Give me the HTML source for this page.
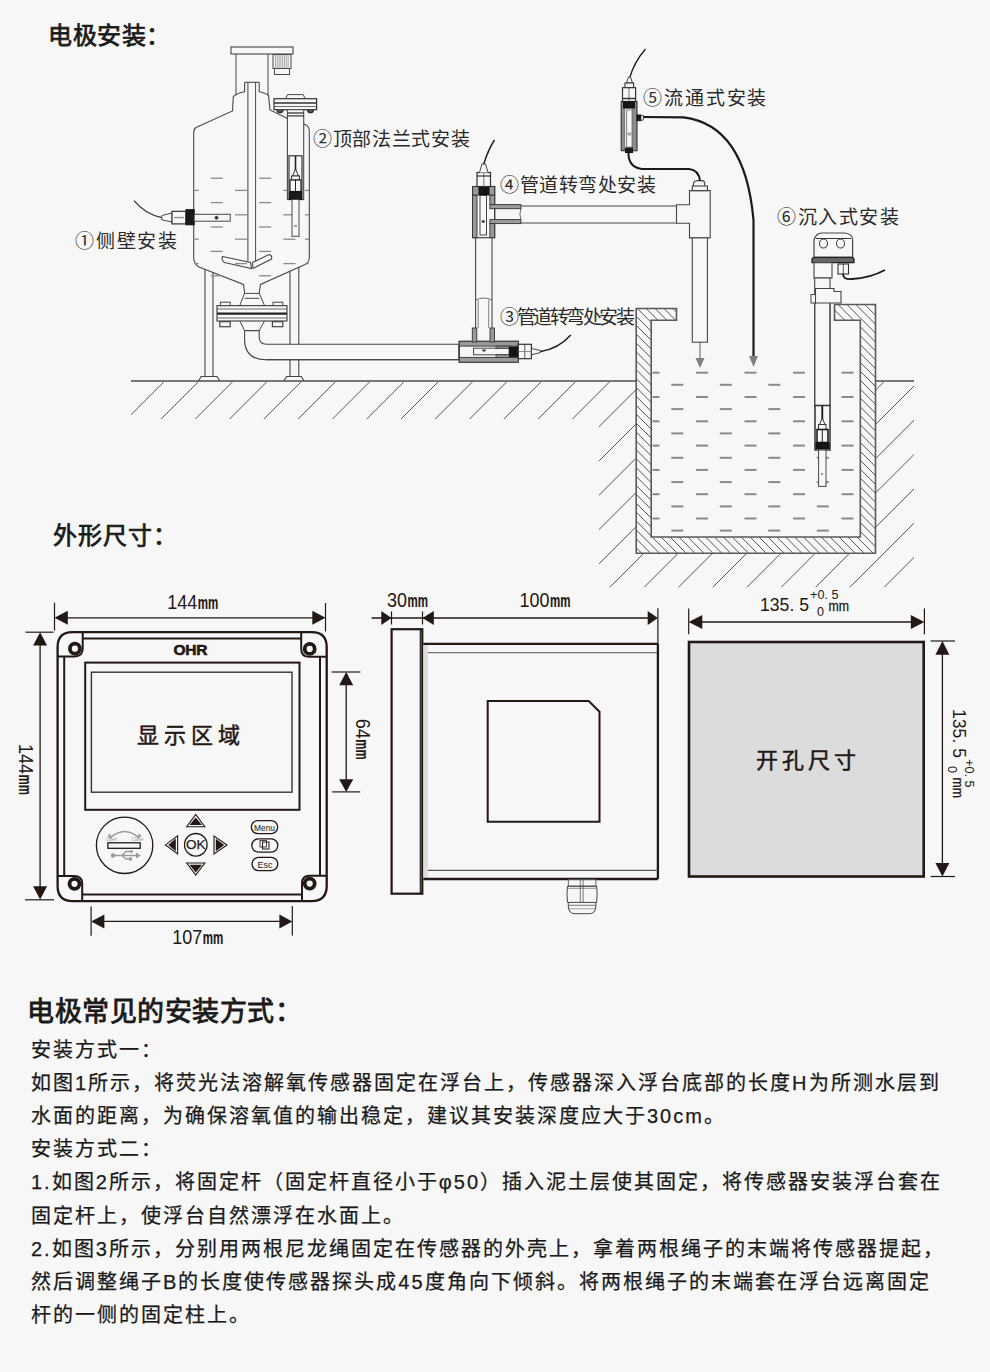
<!DOCTYPE html>
<html lang="zh-CN">
<head>
<meta charset="utf-8">
<style>
html,body{margin:0;padding:0;}
body{width:990px;height:1372px;background:#f7f7f7;position:relative;overflow:hidden;font-family:"Liberation Sans",sans-serif;color:#1a1a1a;}
.t{position:absolute;white-space:nowrap;line-height:1;}
.h1{font-size:24px;font-weight:400;-webkit-text-stroke:0.75px #1a1a1a;}
.h2{font-size:27px;font-weight:400;-webkit-text-stroke:0.85px #1a1a1a;}
.lb{font-size:19px;color:#2a2a2a;}
.dm{font-size:16.5px;color:#231815;}
.mm{font-size:13px;display:inline-block;transform:scaleX(0.85);transform-origin:left;}
.rot{transform:rotate(90deg);transform-origin:center;}
.sup{font-size:12px;position:relative;top:-9px;left:2px;}
.sub{font-size:12px;position:relative;top:4px;left:-22px;}
.mm2{font-size:13px;position:relative;left:-14px;}
.sr{font-family:"Liberation Serif",serif;font-size:22px;font-weight:400;-webkit-text-stroke:0.5px #231815;color:#231815;letter-spacing:4px;}
.p{font-size:20px;left:31px;letter-spacing:2px;-webkit-text-stroke:0.25px #1a1a1a;}
svg{position:absolute;left:0;top:0;}
</style>
</head>
<body>
<svg width="990" height="1372" viewBox="0 0 990 1372"><defs><clipPath id="gclip"><path d="M131 381 L636.4 381 L636.4 553.2 L875.5 553.2 L875.5 381 L914 381 L914 587.3 L599 587.3 L599 419 L131 419 Z"/></clipPath><clipPath id="wclip"><path d="M636.2 308.5 L676.5 308.5 L676.5 320.3 L651.2 320.3 L651.2 537 L860.3 537 L860.3 320.3 L834.5 320.3 L834.5 304.5 L875.5 304.5 L875.5 553.2 L636.2 553.2 Z"/></clipPath></defs><g clip-path="url(#gclip)"><line x1="107.2" y1="370" x2="-122.8" y2="600" stroke="#585858" stroke-width="1"/><line x1="141.5" y1="370" x2="-88.5" y2="600" stroke="#585858" stroke-width="1"/><line x1="175.8" y1="370" x2="-54.2" y2="600" stroke="#585858" stroke-width="1"/><line x1="210.1" y1="370" x2="-19.9" y2="600" stroke="#585858" stroke-width="1"/><line x1="244.4" y1="370" x2="14.4" y2="600" stroke="#585858" stroke-width="1"/><line x1="278.6" y1="370" x2="48.6" y2="600" stroke="#585858" stroke-width="1"/><line x1="312.9" y1="370" x2="82.9" y2="600" stroke="#585858" stroke-width="1"/><line x1="347.2" y1="370" x2="117.2" y2="600" stroke="#585858" stroke-width="1"/><line x1="381.5" y1="370" x2="151.5" y2="600" stroke="#585858" stroke-width="1"/><line x1="415.8" y1="370" x2="185.8" y2="600" stroke="#585858" stroke-width="1"/><line x1="450" y1="370" x2="220" y2="600" stroke="#585858" stroke-width="1"/><line x1="484.3" y1="370" x2="254.3" y2="600" stroke="#585858" stroke-width="1"/><line x1="518.6" y1="370" x2="288.6" y2="600" stroke="#585858" stroke-width="1"/><line x1="552.9" y1="370" x2="322.9" y2="600" stroke="#585858" stroke-width="1"/><line x1="587.2" y1="370" x2="357.2" y2="600" stroke="#585858" stroke-width="1"/><line x1="621.4" y1="370" x2="391.4" y2="600" stroke="#585858" stroke-width="1"/><line x1="655.7" y1="370" x2="425.7" y2="600" stroke="#585858" stroke-width="1"/><line x1="690" y1="370" x2="460" y2="600" stroke="#585858" stroke-width="1"/><line x1="724.3" y1="370" x2="494.3" y2="600" stroke="#585858" stroke-width="1"/><line x1="758.6" y1="370" x2="528.6" y2="600" stroke="#585858" stroke-width="1"/><line x1="792.8" y1="370" x2="562.8" y2="600" stroke="#585858" stroke-width="1"/><line x1="827.1" y1="370" x2="597.1" y2="600" stroke="#585858" stroke-width="1"/><line x1="861.4" y1="370" x2="631.4" y2="600" stroke="#585858" stroke-width="1"/><line x1="895.7" y1="370" x2="665.7" y2="600" stroke="#585858" stroke-width="1"/><line x1="930" y1="370" x2="700" y2="600" stroke="#585858" stroke-width="1"/><line x1="964.2" y1="370" x2="734.2" y2="600" stroke="#585858" stroke-width="1"/><line x1="998.5" y1="370" x2="768.5" y2="600" stroke="#585858" stroke-width="1"/><line x1="1032.8" y1="370" x2="802.8" y2="600" stroke="#585858" stroke-width="1"/><line x1="1067.1" y1="370" x2="837.1" y2="600" stroke="#585858" stroke-width="1"/><line x1="1101.4" y1="370" x2="871.4" y2="600" stroke="#585858" stroke-width="1"/><line x1="1135.6" y1="370" x2="905.6" y2="600" stroke="#585858" stroke-width="1"/><line x1="1169.9" y1="370" x2="939.9" y2="600" stroke="#585858" stroke-width="1"/></g><line x1="131" y1="381" x2="636.4" y2="381" stroke="#777" stroke-width="2"/><line x1="875.5" y1="381" x2="914" y2="381" stroke="#777" stroke-width="2"/><g clip-path="url(#wclip)"><line x1="600" y1="-22.5" x2="900" y2="277.5" stroke="#555" stroke-width="1"/><line x1="600" y1="-13.6" x2="900" y2="286.4" stroke="#555" stroke-width="1"/><line x1="600" y1="-4.7" x2="900" y2="295.3" stroke="#555" stroke-width="1"/><line x1="600" y1="4.2" x2="900" y2="304.2" stroke="#555" stroke-width="1"/><line x1="600" y1="13.1" x2="900" y2="313.1" stroke="#555" stroke-width="1"/><line x1="600" y1="22" x2="900" y2="322" stroke="#555" stroke-width="1"/><line x1="600" y1="30.9" x2="900" y2="330.9" stroke="#555" stroke-width="1"/><line x1="600" y1="39.8" x2="900" y2="339.8" stroke="#555" stroke-width="1"/><line x1="600" y1="48.7" x2="900" y2="348.7" stroke="#555" stroke-width="1"/><line x1="600" y1="57.6" x2="900" y2="357.6" stroke="#555" stroke-width="1"/><line x1="600" y1="66.5" x2="900" y2="366.5" stroke="#555" stroke-width="1"/><line x1="600" y1="75.4" x2="900" y2="375.4" stroke="#555" stroke-width="1"/><line x1="600" y1="84.3" x2="900" y2="384.3" stroke="#555" stroke-width="1"/><line x1="600" y1="93.2" x2="900" y2="393.2" stroke="#555" stroke-width="1"/><line x1="600" y1="102.1" x2="900" y2="402.1" stroke="#555" stroke-width="1"/><line x1="600" y1="111" x2="900" y2="411" stroke="#555" stroke-width="1"/><line x1="600" y1="119.9" x2="900" y2="419.9" stroke="#555" stroke-width="1"/><line x1="600" y1="128.8" x2="900" y2="428.8" stroke="#555" stroke-width="1"/><line x1="600" y1="137.7" x2="900" y2="437.7" stroke="#555" stroke-width="1"/><line x1="600" y1="146.6" x2="900" y2="446.6" stroke="#555" stroke-width="1"/><line x1="600" y1="155.5" x2="900" y2="455.5" stroke="#555" stroke-width="1"/><line x1="600" y1="164.4" x2="900" y2="464.4" stroke="#555" stroke-width="1"/><line x1="600" y1="173.3" x2="900" y2="473.3" stroke="#555" stroke-width="1"/><line x1="600" y1="182.2" x2="900" y2="482.2" stroke="#555" stroke-width="1"/><line x1="600" y1="191.1" x2="900" y2="491.1" stroke="#555" stroke-width="1"/><line x1="600" y1="200" x2="900" y2="500" stroke="#555" stroke-width="1"/><line x1="600" y1="208.9" x2="900" y2="508.9" stroke="#555" stroke-width="1"/><line x1="600" y1="217.8" x2="900" y2="517.8" stroke="#555" stroke-width="1"/><line x1="600" y1="226.7" x2="900" y2="526.7" stroke="#555" stroke-width="1"/><line x1="600" y1="235.6" x2="900" y2="535.6" stroke="#555" stroke-width="1"/><line x1="600" y1="244.5" x2="900" y2="544.5" stroke="#555" stroke-width="1"/><line x1="600" y1="253.4" x2="900" y2="553.4" stroke="#555" stroke-width="1"/><line x1="600" y1="262.3" x2="900" y2="562.3" stroke="#555" stroke-width="1"/><line x1="600" y1="271.2" x2="900" y2="571.2" stroke="#555" stroke-width="1"/><line x1="600" y1="280.1" x2="900" y2="580.1" stroke="#555" stroke-width="1"/><line x1="600" y1="289" x2="900" y2="589" stroke="#555" stroke-width="1"/><line x1="600" y1="297.9" x2="900" y2="597.9" stroke="#555" stroke-width="1"/><line x1="600" y1="306.8" x2="900" y2="606.8" stroke="#555" stroke-width="1"/><line x1="600" y1="315.7" x2="900" y2="615.7" stroke="#555" stroke-width="1"/><line x1="600" y1="324.6" x2="900" y2="624.6" stroke="#555" stroke-width="1"/><line x1="600" y1="333.5" x2="900" y2="633.5" stroke="#555" stroke-width="1"/><line x1="600" y1="342.4" x2="900" y2="642.4" stroke="#555" stroke-width="1"/><line x1="600" y1="351.3" x2="900" y2="651.3" stroke="#555" stroke-width="1"/><line x1="600" y1="360.2" x2="900" y2="660.2" stroke="#555" stroke-width="1"/><line x1="600" y1="369.1" x2="900" y2="669.1" stroke="#555" stroke-width="1"/><line x1="600" y1="378" x2="900" y2="678" stroke="#555" stroke-width="1"/><line x1="600" y1="386.9" x2="900" y2="686.9" stroke="#555" stroke-width="1"/><line x1="600" y1="395.8" x2="900" y2="695.8" stroke="#555" stroke-width="1"/><line x1="600" y1="404.7" x2="900" y2="704.7" stroke="#555" stroke-width="1"/><line x1="600" y1="413.6" x2="900" y2="713.6" stroke="#555" stroke-width="1"/><line x1="600" y1="422.5" x2="900" y2="722.5" stroke="#555" stroke-width="1"/><line x1="600" y1="431.4" x2="900" y2="731.4" stroke="#555" stroke-width="1"/><line x1="600" y1="440.3" x2="900" y2="740.3" stroke="#555" stroke-width="1"/><line x1="600" y1="449.2" x2="900" y2="749.2" stroke="#555" stroke-width="1"/><line x1="600" y1="458.1" x2="900" y2="758.1" stroke="#555" stroke-width="1"/><line x1="600" y1="467" x2="900" y2="767" stroke="#555" stroke-width="1"/><line x1="600" y1="475.9" x2="900" y2="775.9" stroke="#555" stroke-width="1"/><line x1="600" y1="484.8" x2="900" y2="784.8" stroke="#555" stroke-width="1"/><line x1="600" y1="493.7" x2="900" y2="793.7" stroke="#555" stroke-width="1"/><line x1="600" y1="502.6" x2="900" y2="802.6" stroke="#555" stroke-width="1"/><line x1="600" y1="511.5" x2="900" y2="811.5" stroke="#555" stroke-width="1"/><line x1="600" y1="520.4" x2="900" y2="820.4" stroke="#555" stroke-width="1"/><line x1="600" y1="529.3" x2="900" y2="829.3" stroke="#555" stroke-width="1"/><line x1="600" y1="538.2" x2="900" y2="838.2" stroke="#555" stroke-width="1"/><line x1="600" y1="547.1" x2="900" y2="847.1" stroke="#555" stroke-width="1"/><line x1="600" y1="556" x2="900" y2="856" stroke="#555" stroke-width="1"/><line x1="600" y1="564.9" x2="900" y2="864.9" stroke="#555" stroke-width="1"/><line x1="600" y1="573.8" x2="900" y2="873.8" stroke="#555" stroke-width="1"/><line x1="600" y1="582.7" x2="900" y2="882.7" stroke="#555" stroke-width="1"/><line x1="600" y1="591.6" x2="900" y2="891.6" stroke="#555" stroke-width="1"/><line x1="600" y1="600.5" x2="900" y2="900.5" stroke="#555" stroke-width="1"/><line x1="600" y1="609.4" x2="900" y2="909.4" stroke="#555" stroke-width="1"/><line x1="600" y1="618.3" x2="900" y2="918.3" stroke="#555" stroke-width="1"/><line x1="600" y1="627.2" x2="900" y2="927.2" stroke="#555" stroke-width="1"/><line x1="600" y1="636.1" x2="900" y2="936.1" stroke="#555" stroke-width="1"/><line x1="600" y1="645" x2="900" y2="945" stroke="#555" stroke-width="1"/><line x1="600" y1="653.9" x2="900" y2="953.9" stroke="#555" stroke-width="1"/><line x1="600" y1="662.8" x2="900" y2="962.8" stroke="#555" stroke-width="1"/><line x1="600" y1="671.7" x2="900" y2="971.7" stroke="#555" stroke-width="1"/><line x1="600" y1="680.6" x2="900" y2="980.6" stroke="#555" stroke-width="1"/><line x1="600" y1="689.5" x2="900" y2="989.5" stroke="#555" stroke-width="1"/><line x1="600" y1="698.4" x2="900" y2="998.4" stroke="#555" stroke-width="1"/><line x1="600" y1="707.3" x2="900" y2="1007.3" stroke="#555" stroke-width="1"/><line x1="600" y1="716.2" x2="900" y2="1016.2" stroke="#555" stroke-width="1"/><line x1="600" y1="725.1" x2="900" y2="1025.1" stroke="#555" stroke-width="1"/><line x1="600" y1="734" x2="900" y2="1034" stroke="#555" stroke-width="1"/><line x1="600" y1="742.9" x2="900" y2="1042.9" stroke="#555" stroke-width="1"/><line x1="600" y1="751.8" x2="900" y2="1051.8" stroke="#555" stroke-width="1"/><line x1="600" y1="760.7" x2="900" y2="1060.7" stroke="#555" stroke-width="1"/><line x1="600" y1="769.6" x2="900" y2="1069.6" stroke="#555" stroke-width="1"/><line x1="600" y1="778.5" x2="900" y2="1078.5" stroke="#555" stroke-width="1"/><line x1="600" y1="787.4" x2="900" y2="1087.4" stroke="#555" stroke-width="1"/><line x1="600" y1="796.3" x2="900" y2="1096.3" stroke="#555" stroke-width="1"/><line x1="600" y1="805.2" x2="900" y2="1105.2" stroke="#555" stroke-width="1"/><line x1="600" y1="814.1" x2="900" y2="1114.1" stroke="#555" stroke-width="1"/><line x1="600" y1="823" x2="900" y2="1123" stroke="#555" stroke-width="1"/><line x1="600" y1="831.9" x2="900" y2="1131.9" stroke="#555" stroke-width="1"/><line x1="600" y1="840.8" x2="900" y2="1140.8" stroke="#555" stroke-width="1"/><line x1="600" y1="849.7" x2="900" y2="1149.7" stroke="#555" stroke-width="1"/><line x1="600" y1="858.6" x2="900" y2="1158.6" stroke="#555" stroke-width="1"/><line x1="600" y1="867.5" x2="900" y2="1167.5" stroke="#555" stroke-width="1"/><line x1="600" y1="876.4" x2="900" y2="1176.4" stroke="#555" stroke-width="1"/><line x1="600" y1="885.3" x2="900" y2="1185.3" stroke="#555" stroke-width="1"/><line x1="600" y1="894.2" x2="900" y2="1194.2" stroke="#555" stroke-width="1"/><line x1="600" y1="903.1" x2="900" y2="1203.1" stroke="#555" stroke-width="1"/></g><path d="M636.2 308.5 L676.5 308.5 L676.5 320.3 L651.2 320.3 L651.2 537 L860.3 537 L860.3 320.3 L834.5 320.3 L834.5 304.5 L875.5 304.5 L875.5 553.2 L636.2 553.2 Z" stroke="#5a5a5a" stroke-width="1.6" fill="none"/><line x1="652.5" y1="372.7" x2="659.5" y2="372.7" stroke="#8a8a8a" stroke-width="2"/><line x1="696" y1="372.7" x2="708" y2="372.7" stroke="#8a8a8a" stroke-width="2"/><line x1="744.5" y1="372.7" x2="756.5" y2="372.7" stroke="#8a8a8a" stroke-width="2"/><line x1="793" y1="372.7" x2="805" y2="372.7" stroke="#8a8a8a" stroke-width="2"/><line x1="841.5" y1="372.7" x2="853.5" y2="372.7" stroke="#8a8a8a" stroke-width="2"/><line x1="671.3" y1="384.8" x2="683.3" y2="384.8" stroke="#8a8a8a" stroke-width="2"/><line x1="719.8" y1="384.8" x2="731.8" y2="384.8" stroke="#8a8a8a" stroke-width="2"/><line x1="768.3" y1="384.8" x2="780.3" y2="384.8" stroke="#8a8a8a" stroke-width="2"/><line x1="816.8" y1="384.8" x2="828.8" y2="384.8" stroke="#8a8a8a" stroke-width="2"/><line x1="652.5" y1="397" x2="659.5" y2="397" stroke="#8a8a8a" stroke-width="2"/><line x1="696" y1="397" x2="708" y2="397" stroke="#8a8a8a" stroke-width="2"/><line x1="744.5" y1="397" x2="756.5" y2="397" stroke="#8a8a8a" stroke-width="2"/><line x1="793" y1="397" x2="805" y2="397" stroke="#8a8a8a" stroke-width="2"/><line x1="841.5" y1="397" x2="853.5" y2="397" stroke="#8a8a8a" stroke-width="2"/><line x1="671.3" y1="409.1" x2="683.3" y2="409.1" stroke="#8a8a8a" stroke-width="2"/><line x1="719.8" y1="409.1" x2="731.8" y2="409.1" stroke="#8a8a8a" stroke-width="2"/><line x1="768.3" y1="409.1" x2="780.3" y2="409.1" stroke="#8a8a8a" stroke-width="2"/><line x1="816.8" y1="409.1" x2="828.8" y2="409.1" stroke="#8a8a8a" stroke-width="2"/><line x1="652.5" y1="421.3" x2="659.5" y2="421.3" stroke="#8a8a8a" stroke-width="2"/><line x1="696" y1="421.3" x2="708" y2="421.3" stroke="#8a8a8a" stroke-width="2"/><line x1="744.5" y1="421.3" x2="756.5" y2="421.3" stroke="#8a8a8a" stroke-width="2"/><line x1="793" y1="421.3" x2="805" y2="421.3" stroke="#8a8a8a" stroke-width="2"/><line x1="841.5" y1="421.3" x2="853.5" y2="421.3" stroke="#8a8a8a" stroke-width="2"/><line x1="671.3" y1="433.4" x2="683.3" y2="433.4" stroke="#8a8a8a" stroke-width="2"/><line x1="719.8" y1="433.4" x2="731.8" y2="433.4" stroke="#8a8a8a" stroke-width="2"/><line x1="768.3" y1="433.4" x2="780.3" y2="433.4" stroke="#8a8a8a" stroke-width="2"/><line x1="816.8" y1="433.4" x2="828.8" y2="433.4" stroke="#8a8a8a" stroke-width="2"/><line x1="652.5" y1="445.6" x2="659.5" y2="445.6" stroke="#8a8a8a" stroke-width="2"/><line x1="696" y1="445.6" x2="708" y2="445.6" stroke="#8a8a8a" stroke-width="2"/><line x1="744.5" y1="445.6" x2="756.5" y2="445.6" stroke="#8a8a8a" stroke-width="2"/><line x1="793" y1="445.6" x2="805" y2="445.6" stroke="#8a8a8a" stroke-width="2"/><line x1="841.5" y1="445.6" x2="853.5" y2="445.6" stroke="#8a8a8a" stroke-width="2"/><line x1="671.3" y1="457.8" x2="683.3" y2="457.8" stroke="#8a8a8a" stroke-width="2"/><line x1="719.8" y1="457.8" x2="731.8" y2="457.8" stroke="#8a8a8a" stroke-width="2"/><line x1="768.3" y1="457.8" x2="780.3" y2="457.8" stroke="#8a8a8a" stroke-width="2"/><line x1="816.8" y1="457.8" x2="828.8" y2="457.8" stroke="#8a8a8a" stroke-width="2"/><line x1="652.5" y1="469.9" x2="659.5" y2="469.9" stroke="#8a8a8a" stroke-width="2"/><line x1="696" y1="469.9" x2="708" y2="469.9" stroke="#8a8a8a" stroke-width="2"/><line x1="744.5" y1="469.9" x2="756.5" y2="469.9" stroke="#8a8a8a" stroke-width="2"/><line x1="793" y1="469.9" x2="805" y2="469.9" stroke="#8a8a8a" stroke-width="2"/><line x1="841.5" y1="469.9" x2="853.5" y2="469.9" stroke="#8a8a8a" stroke-width="2"/><line x1="671.3" y1="482.1" x2="683.3" y2="482.1" stroke="#8a8a8a" stroke-width="2"/><line x1="719.8" y1="482.1" x2="731.8" y2="482.1" stroke="#8a8a8a" stroke-width="2"/><line x1="768.3" y1="482.1" x2="780.3" y2="482.1" stroke="#8a8a8a" stroke-width="2"/><line x1="816.8" y1="482.1" x2="828.8" y2="482.1" stroke="#8a8a8a" stroke-width="2"/><line x1="652.5" y1="494.2" x2="659.5" y2="494.2" stroke="#8a8a8a" stroke-width="2"/><line x1="696" y1="494.2" x2="708" y2="494.2" stroke="#8a8a8a" stroke-width="2"/><line x1="744.5" y1="494.2" x2="756.5" y2="494.2" stroke="#8a8a8a" stroke-width="2"/><line x1="793" y1="494.2" x2="805" y2="494.2" stroke="#8a8a8a" stroke-width="2"/><line x1="841.5" y1="494.2" x2="853.5" y2="494.2" stroke="#8a8a8a" stroke-width="2"/><line x1="671.3" y1="506.4" x2="683.3" y2="506.4" stroke="#8a8a8a" stroke-width="2"/><line x1="719.8" y1="506.4" x2="731.8" y2="506.4" stroke="#8a8a8a" stroke-width="2"/><line x1="768.3" y1="506.4" x2="780.3" y2="506.4" stroke="#8a8a8a" stroke-width="2"/><line x1="816.8" y1="506.4" x2="828.8" y2="506.4" stroke="#8a8a8a" stroke-width="2"/><line x1="652.5" y1="518.5" x2="659.5" y2="518.5" stroke="#8a8a8a" stroke-width="2"/><line x1="696" y1="518.5" x2="708" y2="518.5" stroke="#8a8a8a" stroke-width="2"/><line x1="744.5" y1="518.5" x2="756.5" y2="518.5" stroke="#8a8a8a" stroke-width="2"/><line x1="793" y1="518.5" x2="805" y2="518.5" stroke="#8a8a8a" stroke-width="2"/><line x1="841.5" y1="518.5" x2="853.5" y2="518.5" stroke="#8a8a8a" stroke-width="2"/><line x1="671.3" y1="530.6" x2="683.3" y2="530.6" stroke="#8a8a8a" stroke-width="2"/><line x1="719.8" y1="530.6" x2="731.8" y2="530.6" stroke="#8a8a8a" stroke-width="2"/><line x1="768.3" y1="530.6" x2="780.3" y2="530.6" stroke="#8a8a8a" stroke-width="2"/><line x1="816.8" y1="530.6" x2="828.8" y2="530.6" stroke="#8a8a8a" stroke-width="2"/><line x1="700" y1="342" x2="700" y2="360" stroke="#777" stroke-width="1.2"/><path d="M695.5 358 L704.5 358 L700 368 Z" stroke="none" stroke-width="0" fill="#808080"/><line x1="753.5" y1="220" x2="753.5" y2="358" stroke="#1a1a1a" stroke-width="2.2"/><path d="M749 356 L758 356 L753.5 367 Z" stroke="none" stroke-width="0" fill="#808080"/><line x1="205" y1="269.4" x2="205" y2="377" stroke="#484848" stroke-width="1.1"/><line x1="213" y1="272.5" x2="213" y2="377" stroke="#484848" stroke-width="1.1"/><path d="M198.6 381 L201.1 376.5 L217.1 376.5 L219.6 381" stroke="#484848" stroke-width="1.1" fill="none"/><line x1="290" y1="271.2" x2="290" y2="377" stroke="#484848" stroke-width="1.1"/><line x1="298.8" y1="267.3" x2="298.8" y2="377" stroke="#484848" stroke-width="1.1"/><path d="M284 381 L286.5 376.5 L301.5 376.5 L304 381" stroke="#484848" stroke-width="1.1" fill="none"/><rect x="231" y="47" width="62" height="7" stroke="#484848" stroke-width="1.1" fill="none"/><line x1="236" y1="54" x2="236" y2="95" stroke="#484848" stroke-width="1"/><line x1="268" y1="54" x2="268" y2="95" stroke="#484848" stroke-width="1"/><rect x="273" y="54.5" width="18" height="14" stroke="#484848" stroke-width="1" fill="none"/><rect x="274.5" y="68.5" width="15" height="6" stroke="#484848" stroke-width="1" fill="none"/><line x1="275.5" y1="55" x2="275.5" y2="68" stroke="#888" stroke-width="0.7"/><line x1="277.3" y1="55" x2="277.3" y2="68" stroke="#888" stroke-width="0.7"/><line x1="279.1" y1="55" x2="279.1" y2="68" stroke="#888" stroke-width="0.7"/><line x1="280.9" y1="55" x2="280.9" y2="68" stroke="#888" stroke-width="0.7"/><line x1="282.7" y1="55" x2="282.7" y2="68" stroke="#888" stroke-width="0.7"/><line x1="284.5" y1="55" x2="284.5" y2="68" stroke="#888" stroke-width="0.7"/><line x1="286.3" y1="55" x2="286.3" y2="68" stroke="#888" stroke-width="0.7"/><line x1="288.1" y1="55" x2="288.1" y2="68" stroke="#888" stroke-width="0.7"/><path d="M244.6 82.3 L244.6 91.7 Q237 93 233.3 96.6 L232.5 111 L196 127.5 Q193.7 129 193.7 133 L193.7 258 Q194 264 199 267 L243.5 284.5 L244.6 293" stroke="#484848" stroke-width="1.1" fill="none"/><path d="M259.2 82.3 L259.2 91.7 Q266 93 268.5 95.5 L270 110 L287.4 118.5" stroke="#484848" stroke-width="1.1" fill="none"/><path d="M303.7 124 L306 125 Q309.3 127 309.3 131 L309.3 258 Q309 262 305 264.5 L260.5 284.5 L259.2 293" stroke="#484848" stroke-width="1.1" fill="none"/><line x1="244.6" y1="82.3" x2="259.2" y2="82.3" stroke="#484848" stroke-width="1.1"/><line x1="247.9" y1="82.3" x2="247.9" y2="262" stroke="#484848" stroke-width="1"/><line x1="255.6" y1="82.3" x2="255.6" y2="262" stroke="#484848" stroke-width="1"/><path d="M222.5 256.5 L250.5 262.5 L251.5 268.5 L224.5 262.5 Q221 260 222.5 256.5 Z" stroke="#484848" stroke-width="1.1" fill="#f7f7f7"/><path d="M252.5 262.5 L269 254.5 Q272.5 255.5 271.5 259 L253 268.5 Z" stroke="#484848" stroke-width="1.1" fill="#f7f7f7"/><path d="M244.6 293 L239.8 305.6 M259.2 293 L264.5 305.6" stroke="#484848" stroke-width="1" fill="none"/><line x1="244.6" y1="293.4" x2="259.2" y2="293.4" stroke="#484848" stroke-width="1"/><line x1="244.6" y1="298.3" x2="259.2" y2="298.3" stroke="#484848" stroke-width="1"/><rect x="217" y="305.6" width="70" height="15.4" stroke="#484848" stroke-width="1.2" fill="#f7f7f7"/><line x1="217" y1="313.6" x2="287" y2="313.6" stroke="#222" stroke-width="2.2"/><line x1="217" y1="309" x2="287" y2="309" stroke="#484848" stroke-width="0.8"/><line x1="217" y1="318" x2="287" y2="318" stroke="#484848" stroke-width="0.8"/><rect x="220.4" y="302.2" width="9.8" height="3.4" stroke="#484848" stroke-width="1" fill="#f7f7f7"/><rect x="219.8" y="321.7" width="10.4" height="5" stroke="#444" stroke-width="1.2" fill="#f7f7f7"/><rect x="273" y="302.2" width="9.8" height="3.4" stroke="#484848" stroke-width="1" fill="#f7f7f7"/><rect x="272.4" y="321.7" width="10.4" height="5" stroke="#444" stroke-width="1.2" fill="#f7f7f7"/><path d="M239.8 321 L244.6 330.6 M264.5 321 L259.2 330.6" stroke="#484848" stroke-width="1" fill="none"/><line x1="244.6" y1="330.6" x2="259.2" y2="330.6" stroke="#484848" stroke-width="1"/><line x1="244.6" y1="334" x2="259.2" y2="334" stroke="#484848" stroke-width="1"/><path d="M244.6 330.6 L244.6 340 Q245 359.7 266 359.7 L459 359.7 L459 344.3 L266.5 344.3 Q259.2 344 259.2 337 L259.2 330.6 Z" stroke="#484848" stroke-width="1.1" fill="#f7f7f7"/><line x1="266" y1="359.7" x2="459" y2="359.7" stroke="#484848" stroke-width="1.3"/><line x1="210.7" y1="178.2" x2="222.7" y2="178.2" stroke="#8a8a8a" stroke-width="1.3"/><line x1="259.1" y1="178.2" x2="271.1" y2="178.2" stroke="#8a8a8a" stroke-width="1.3"/><line x1="194.5" y1="190.4" x2="198.6" y2="190.4" stroke="#8a8a8a" stroke-width="1.3"/><line x1="235" y1="190.4" x2="247" y2="190.4" stroke="#8a8a8a" stroke-width="1.3"/><line x1="283.4" y1="190.4" x2="295.5" y2="190.4" stroke="#8a8a8a" stroke-width="1.3"/><line x1="305" y1="190.4" x2="309" y2="190.4" stroke="#8a8a8a" stroke-width="1.3"/><line x1="210.7" y1="202.6" x2="222.7" y2="202.6" stroke="#8a8a8a" stroke-width="1.3"/><line x1="259.1" y1="202.6" x2="271.1" y2="202.6" stroke="#8a8a8a" stroke-width="1.3"/><line x1="194.5" y1="214.8" x2="198.6" y2="214.8" stroke="#8a8a8a" stroke-width="1.3"/><line x1="235" y1="214.8" x2="247" y2="214.8" stroke="#8a8a8a" stroke-width="1.3"/><line x1="283.4" y1="214.8" x2="295.5" y2="214.8" stroke="#8a8a8a" stroke-width="1.3"/><line x1="305" y1="214.8" x2="309" y2="214.8" stroke="#8a8a8a" stroke-width="1.3"/><line x1="210.7" y1="227" x2="222.7" y2="227" stroke="#8a8a8a" stroke-width="1.3"/><line x1="259.1" y1="227" x2="271.1" y2="227" stroke="#8a8a8a" stroke-width="1.3"/><line x1="194.5" y1="239.2" x2="198.6" y2="239.2" stroke="#8a8a8a" stroke-width="1.3"/><line x1="235" y1="239.2" x2="247" y2="239.2" stroke="#8a8a8a" stroke-width="1.3"/><line x1="283.4" y1="239.2" x2="295.5" y2="239.2" stroke="#8a8a8a" stroke-width="1.3"/><line x1="305" y1="239.2" x2="309" y2="239.2" stroke="#8a8a8a" stroke-width="1.3"/><line x1="210.7" y1="251.4" x2="222.7" y2="251.4" stroke="#8a8a8a" stroke-width="1.3"/><line x1="259.1" y1="251.4" x2="271.1" y2="251.4" stroke="#8a8a8a" stroke-width="1.3"/><line x1="194.5" y1="263.6" x2="198.6" y2="263.6" stroke="#8a8a8a" stroke-width="1.3"/><line x1="235" y1="263.6" x2="247" y2="263.6" stroke="#8a8a8a" stroke-width="1.3"/><line x1="283.4" y1="263.6" x2="295.5" y2="263.6" stroke="#8a8a8a" stroke-width="1.3"/><line x1="305" y1="263.6" x2="309" y2="263.6" stroke="#8a8a8a" stroke-width="1.3"/><line x1="210.7" y1="275.8" x2="222.7" y2="275.8" stroke="#8a8a8a" stroke-width="1.3"/><line x1="259.1" y1="275.8" x2="271.1" y2="275.8" stroke="#8a8a8a" stroke-width="1.3"/><path d="M134 200.6 Q145 214 161.8 217.6" stroke="#333" stroke-width="1.2" fill="none"/><path d="M161.8 215.5 L172 213 L172 222 L161.8 219.8 Z" stroke="#484848" stroke-width="1" fill="#f7f7f7"/><rect x="172" y="211.3" width="14" height="12.6" stroke="#333" stroke-width="1.2" fill="#f7f7f7"/><line x1="174" y1="217.6" x2="184" y2="217.6" stroke="#999" stroke-width="1.5"/><rect x="186" y="209.7" width="8.2" height="15.1" stroke="#111" stroke-width="1" fill="#1a1a1a"/><rect x="194.2" y="214.3" width="36" height="6.9" stroke="#484848" stroke-width="1" fill="#f7f7f7"/><path d="M216.5 217.7 m-1.5 0 a1.5 1.5 0 1 0 3 0 a1.5 1.5 0 1 0 -3 0" stroke="#333" stroke-width="0.8" fill="#333"/><path d="M285.7 98.7 L287.5 94.6 L303.2 94.6 L305 98.7" stroke="#484848" stroke-width="1" fill="#f7f7f7"/><rect x="274" y="98.7" width="42.6" height="11" stroke="#333" stroke-width="1.2" fill="#f7f7f7"/><line x1="274" y1="103" x2="316.6" y2="103" stroke="#333" stroke-width="1.6"/><line x1="274" y1="106.5" x2="316.6" y2="106.5" stroke="#484848" stroke-width="0.8"/><path d="M277 109.7 a3 3 0 0 0 6 0 M307.5 109.7 a3 3 0 0 0 6 0" stroke="#333" stroke-width="1.3" fill="#555"/><rect x="287.4" y="109.7" width="16.3" height="6.3" stroke="#484848" stroke-width="1" fill="#f7f7f7"/><line x1="287.4" y1="113" x2="303.7" y2="113" stroke="#333" stroke-width="1.3"/><rect x="287.4" y="116" width="16.3" height="83.5" stroke="#484848" stroke-width="1.1" fill="#f7f7f7"/><rect x="289" y="155.8" width="13" height="43.7" stroke="#333" stroke-width="1.2" fill="#f7f7f7"/><line x1="295.5" y1="156" x2="295.5" y2="172" stroke="#222" stroke-width="1.6"/><path d="M292.5 176 L295.5 169 L298.5 176 Z" stroke="#333" stroke-width="1" fill="#f7f7f7"/><rect x="291.5" y="176" width="8" height="4" stroke="#333" stroke-width="1" fill="#f7f7f7"/><rect x="290" y="180" width="11" height="11.5" stroke="#222" stroke-width="1.2" fill="#f7f7f7"/><line x1="295.5" y1="180" x2="295.5" y2="191.5" stroke="#222" stroke-width="1"/><rect x="289.5" y="191.8" width="12" height="7.5" stroke="#111" stroke-width="1" fill="#1a1a1a"/><rect x="292" y="199.5" width="7" height="36.8" stroke="#484848" stroke-width="1" fill="#f7f7f7"/><line x1="294" y1="226" x2="297" y2="226" stroke="#555" stroke-width="1"/><rect x="459.2" y="341.3" width="59.1" height="20.9" stroke="#333" stroke-width="1.1" fill="#f7f7f7"/><rect x="459.2" y="341.3" width="59.1" height="4.8" stroke="#333" stroke-width="0.9" fill="#9a9a9a"/><rect x="459.2" y="357.4" width="59.1" height="4.8" stroke="#333" stroke-width="0.9" fill="#9a9a9a"/><rect x="472.3" y="328" width="4.5" height="14" stroke="#333" stroke-width="0.9" fill="#9a9a9a"/><rect x="490" y="328" width="4.5" height="14" stroke="#333" stroke-width="0.9" fill="#9a9a9a"/><line x1="459.2" y1="346.1" x2="459.2" y2="357.4" stroke="#333" stroke-width="1"/><rect x="473.6" y="348.2" width="35.4" height="6.6" stroke="#444" stroke-width="1" fill="#f7f7f7"/><path d="M484 351.5 l-1.8 -1.5 h3.6 z" stroke="#333" stroke-width="0.8" fill="#333"/><rect x="496" y="346.1" width="13.5" height="2.1" stroke="#333" stroke-width="0.8" fill="#9a9a9a"/><rect x="496" y="354.8" width="13.5" height="2.6" stroke="#333" stroke-width="0.8" fill="#9a9a9a"/><rect x="509.7" y="347" width="8.6" height="9.8" stroke="#111" stroke-width="1" fill="#151515"/><rect x="518.3" y="344.3" width="13.1" height="14.4" stroke="#333" stroke-width="1.2" fill="#f7f7f7"/><line x1="524.8" y1="344.3" x2="524.8" y2="358.7" stroke="#444" stroke-width="0.9"/><line x1="518.3" y1="351.5" x2="531.4" y2="351.5" stroke="#777" stroke-width="0.8"/><path d="M531.4 348.5 L540.6 350.5 L540.6 352.5 L531.4 354.8 Z" stroke="#444" stroke-width="1" fill="#f7f7f7"/><path d="M540.6 351.5 Q558 349 570.8 335" stroke="#1a1a1a" stroke-width="1.4" fill="none"/><line x1="475.6" y1="237.7" x2="475.6" y2="328" stroke="#484848" stroke-width="1.1"/><line x1="492" y1="237.7" x2="492" y2="328" stroke="#484848" stroke-width="1.1"/><line x1="478.2" y1="300" x2="478.2" y2="328" stroke="#666" stroke-width="0.8"/><line x1="488.7" y1="300" x2="488.7" y2="328" stroke="#666" stroke-width="0.8"/><path d="M475.6 300 q8 -4 16.4 0" stroke="#484848" stroke-width="0.8" fill="none"/><rect x="472.6" y="186.5" width="22.1" height="51.2" stroke="#333" stroke-width="1.1" fill="#f7f7f7"/><rect x="472.6" y="195" width="4.4" height="42.7" stroke="#333" stroke-width="0.9" fill="#9a9a9a"/><rect x="489.9" y="195" width="4.8" height="9.6" stroke="#333" stroke-width="0.9" fill="#9a9a9a"/><rect x="489.9" y="223.6" width="4.8" height="14.1" stroke="#333" stroke-width="0.9" fill="#9a9a9a"/><rect x="472.6" y="186.5" width="22.1" height="8.5" stroke="#333" stroke-width="1" fill="#9a9a9a"/><rect x="479" y="187" width="10" height="7.5" stroke="#111" stroke-width="1" fill="#151515"/><rect x="480" y="195.5" width="6.5" height="39.5" stroke="#444" stroke-width="1" fill="#f7f7f7"/><path d="M483.3 223 l-1.5 -1.5 l1.5 -1.5 l1.5 1.5 z" stroke="#333" stroke-width="0.7" fill="#333"/><rect x="477" y="172.5" width="13.5" height="14" stroke="#333" stroke-width="1.2" fill="#f7f7f7"/><line x1="483.8" y1="172.5" x2="483.8" y2="186.5" stroke="#555" stroke-width="0.8"/><line x1="477" y1="176" x2="490.5" y2="176" stroke="#333" stroke-width="1.2"/><path d="M479.5 172.5 L482 164 L485.5 164 L488 172.5" stroke="#444" stroke-width="1" fill="#f7f7f7"/><path d="M483.8 164 Q488 150 494.5 140" stroke="#1a1a1a" stroke-width="1.4" fill="none"/><rect x="489.9" y="204.6" width="31" height="4.1" stroke="#333" stroke-width="0.9" fill="#9a9a9a"/><rect x="489.9" y="219.6" width="31" height="4" stroke="#333" stroke-width="0.9" fill="#9a9a9a"/><line x1="494.7" y1="208.7" x2="494.7" y2="219.6" stroke="#333" stroke-width="0.9"/><line x1="520.9" y1="206" x2="676.3" y2="206" stroke="#484848" stroke-width="1.1"/><line x1="520.9" y1="223" x2="676.3" y2="223" stroke="#484848" stroke-width="1.1"/><path d="M520.9 208.7 q-2 5.5 0 10.9" stroke="#484848" stroke-width="0.8" fill="none"/><path d="M689.5 190.6 L710.2 190.6 L710.2 237.9 L689.5 237.9 L689.5 223.3 L676.5 223.3 L676.5 204.7 L689.5 204.7 Z" stroke="#444" stroke-width="1.1" fill="#f7f7f7"/><path d="M693.5 186 L693.5 183 Q694.5 180.6 697 180.6 L701.5 180.6 Q704.7 180.6 704.7 183 L704.7 186" stroke="#444" stroke-width="1.1" fill="#f7f7f7"/><rect x="692.3" y="186" width="15.1" height="4.6" stroke="#444" stroke-width="1.1" fill="#f7f7f7"/><rect x="692.3" y="237.9" width="15.1" height="104.3" stroke="#484848" stroke-width="1.1" fill="#f7f7f7"/><path d="M645.5 49 Q634 62 629.3 79" stroke="#1a1a1a" stroke-width="1.3" fill="none"/><path d="M626.5 83 L628.5 77 L630.5 77 L632.5 83 Z" stroke="#444" stroke-width="1" fill="#f7f7f7"/><rect x="625" y="83" width="8.6" height="4.7" stroke="#333" stroke-width="1.1" fill="#f7f7f7"/><rect x="622.5" y="87.7" width="13.1" height="13.8" stroke="#333" stroke-width="1.2" fill="#f7f7f7"/><line x1="629" y1="87.7" x2="629" y2="101.5" stroke="#555" stroke-width="0.8"/><line x1="622.5" y1="98.5" x2="635.6" y2="98.5" stroke="#333" stroke-width="1.4"/><rect x="621.2" y="101.5" width="15.8" height="49.2" stroke="#333" stroke-width="1.1" fill="#8c8c8c"/><rect x="624.8" y="108" width="7.8" height="42" stroke="#555" stroke-width="0.6" fill="#f7f7f7"/><rect x="623.5" y="102" width="11" height="6" stroke="#111" stroke-width="1" fill="#151515"/><rect x="626.7" y="110" width="5.3" height="37" stroke="#666" stroke-width="0.8" fill="#f7f7f7"/><path d="M629.3 134 m-1.6 0 a1.6 1.2 0 1 0 3.2 0 a1.6 1.2 0 1 0 -3.2 0" stroke="#555" stroke-width="0.7" fill="none"/><rect x="625.5" y="148" width="7" height="4.5" stroke="#111" stroke-width="1" fill="#1a1a1a"/><rect x="637" y="115" width="4" height="5.6" stroke="#111" stroke-width="1" fill="#1a1a1a"/><rect x="641" y="115.6" width="2.5" height="4.4" stroke="#444" stroke-width="0.8" fill="#f7f7f7"/><path d="M643 117 L683.6 117.3 Q745 125 753.5 220" stroke="#1a1a1a" stroke-width="2.2" fill="none"/><path d="M628.5 152.5 Q628 167 641.8 169 L689 169 Q699 170 700 181" stroke="#1a1a1a" stroke-width="2" fill="none"/><path d="M814 257.4 L814 240 Q816 233 822 233 L845 233 Q852.6 234 852.6 240 L852.6 257.4 Z" stroke="#444" stroke-width="1.2" fill="#f7f7f7"/><line x1="816" y1="238.5" x2="851" y2="238.5" stroke="#333" stroke-width="1.2"/><path d="M823.5 240 m-4 3.5 a4 4.5 0 1 0 8 0 a4 4.5 0 1 0 -8 0" stroke="#444" stroke-width="1.1" fill="#f7f7f7"/><path d="M840.5 240 m-4 3.5 a4 4.5 0 1 0 8 0 a4 4.5 0 1 0 -8 0" stroke="#444" stroke-width="1.1" fill="#f7f7f7"/><path d="M812 262.7 L812 259.5 Q812 257.4 815 257.4 L851 257.4 Q854 257.4 854 259.5 L854 262.7 Z" stroke="#222" stroke-width="1.3" fill="#666"/><rect x="814" y="262.7" width="18" height="15.3" stroke="#444" stroke-width="1.1" fill="#f7f7f7"/><rect x="838" y="264" width="10.5" height="10" stroke="#333" stroke-width="1.1" fill="#f7f7f7"/><line x1="843.3" y1="264" x2="843.3" y2="274" stroke="#333" stroke-width="0.8"/><path d="M843 274 Q843 280 852 279 Q870 278 885 270" stroke="#1a1a1a" stroke-width="1.8" fill="none"/><rect x="814.7" y="278" width="15.3" height="127.5" stroke="#484848" stroke-width="1.1" fill="#f7f7f7"/><path d="M830 288.5 L834 288.5 L834 291.5 L841 291.5 L841 303 L815.5 303 L815.5 288.5 L830 288.5" stroke="#444" stroke-width="1.1" fill="#f7f7f7"/><rect x="811" y="294.5" width="4.5" height="8.5" stroke="#444" stroke-width="1" fill="#f7f7f7"/><line x1="814.7" y1="303" x2="814.7" y2="405.5" stroke="#484848" stroke-width="1.1"/><line x1="830" y1="303" x2="830" y2="405.5" stroke="#484848" stroke-width="1.1"/><rect x="815" y="405.5" width="15" height="44.5" stroke="#333" stroke-width="1.5" fill="#f7f7f7"/><line x1="822.3" y1="406" x2="822.3" y2="420" stroke="#111" stroke-width="1.8"/><path d="M819.5 424.5 L822.3 418 L825 424.5 Z" stroke="#333" stroke-width="1" fill="#f7f7f7"/><rect x="818.5" y="424.5" width="7.5" height="5" stroke="#333" stroke-width="1" fill="#f7f7f7"/><rect x="817" y="429.5" width="11" height="13" stroke="#111" stroke-width="1.5" fill="#f7f7f7"/><line x1="822.3" y1="429.5" x2="822.3" y2="442.5" stroke="#222" stroke-width="1"/><rect x="816" y="442.7" width="13" height="5.8" stroke="#111" stroke-width="1" fill="#151515"/><rect x="818.6" y="450" width="7.4" height="36.4" stroke="#484848" stroke-width="1" fill="#f7f7f7"/><line x1="821" y1="474" x2="823" y2="474" stroke="#444" stroke-width="1.2"/><line x1="54.5" y1="602.7" x2="54.5" y2="630.5" stroke="#231815" stroke-width="1.2"/><line x1="325.5" y1="603" x2="325.5" y2="631.5" stroke="#231815" stroke-width="1.2"/><line x1="60" y1="617.8" x2="320" y2="617.8" stroke="#231815" stroke-width="1.3"/><path d="M54.5 617.8 L67.8 610.8 L67.8 624.8 Z" stroke="none" stroke-width="0" fill="#231815"/><path d="M325.5 617.8 L312.3 610.8 L312.3 624.8 Z" stroke="none" stroke-width="0" fill="#231815"/><line x1="25.5" y1="632.2" x2="53.6" y2="632.2" stroke="#231815" stroke-width="1.2"/><line x1="25" y1="899.8" x2="54" y2="899.8" stroke="#231815" stroke-width="1.2"/><line x1="40.1" y1="640" x2="40.1" y2="892" stroke="#231815" stroke-width="1.3"/><path d="M40.1 632.2 L33.1 645.5 L47.1 645.5 Z" stroke="none" stroke-width="0" fill="#231815"/><path d="M40.1 899.6 L33.1 886.3 L47.1 886.3 Z" stroke="none" stroke-width="0" fill="#231815"/><path d="M72.5 632.2 L311.7 632.2 Q326.7 632.2 326.7 647.2 L326.7 886.1 Q326.7 901.1 311.7 901.1 L72.5 901.1 Q57.6 901.1 57.6 886.1 L57.6 647.2 Q57.6 632.2 72.5 632.2 Z" stroke="#231815" stroke-width="2.3" fill="none"/><line x1="82.7" y1="638.5" x2="301.2" y2="638.5" stroke="#231815" stroke-width="2"/><line x1="82.2" y1="894.4" x2="302" y2="894.4" stroke="#231815" stroke-width="2"/><line x1="64.2" y1="656.6" x2="64.2" y2="876" stroke="#231815" stroke-width="2"/><line x1="320" y1="656.8" x2="320" y2="875.7" stroke="#231815" stroke-width="2"/><path d="M82.7 632.2 L82.7 648.5 Q82.7 656.4 74.5 656.4 L57.6 656.4" stroke="#231815" stroke-width="2" fill="none"/><path d="M301.2 632.2 L301.2 648.7 Q301.2 656.8 309.3 656.8 L326.7 656.8" stroke="#231815" stroke-width="2" fill="none"/><path d="M82.2 901.1 L82.2 883.6 Q82.2 876 74.1 876 L57.6 876" stroke="#231815" stroke-width="2" fill="none"/><path d="M302 901.1 L302 883.4 Q302 875.7 309.3 875.7 L326.7 875.7" stroke="#231815" stroke-width="2" fill="none"/><circle cx="74.9" cy="648.7" r="5" stroke="#231815" stroke-width="3.8" fill="none"/><circle cx="309.7" cy="648.9" r="5" stroke="#231815" stroke-width="3.8" fill="none"/><circle cx="74.5" cy="883.8" r="5" stroke="#231815" stroke-width="3.8" fill="none"/><circle cx="309.7" cy="883.6" r="5" stroke="#231815" stroke-width="3.8" fill="none"/><rect x="85.2" y="662.6" width="214.3" height="147.2" stroke="#231815" stroke-width="2" fill="none"/><rect x="91.4" y="672.2" width="200.6" height="120" stroke="#3a3230" stroke-width="1.4" fill="none"/><circle cx="124.6" cy="845.3" r="28.2" stroke="#231815" stroke-width="1.3" fill="none"/><rect x="107.9" y="842.8" width="32.3" height="5.5" stroke="#231815" stroke-width="1.3" fill="none"/><path d="M110 838 Q124.6 825 139 838" stroke="#9a9a9a" stroke-width="1.6" fill="none"/><path d="M107.5 836 L112 839.5 L110 833.5 Z M141.5 836 L137 839.5 L139 833.5 Z" stroke="none" stroke-width="0" fill="#9a9a9a"/><text x="106" y="840.5" font-size="4.5" fill="#9a9a9a" font-family="Liberation Sans">Open</text><text x="132" y="840.5" font-size="4.5" fill="#9a9a9a" font-family="Liberation Sans">Close</text><path d="M113 855.5 L138 855.5 M122 855.5 L126 851.5 L131 851.5 M122 855.5 L126 859 L130 859" stroke="#9a9a9a" stroke-width="1.3" fill="none"/><circle cx="113" cy="855.5" r="2.2" fill="#9a9a9a"/><path d="M136 852.5 L141 855.5 L136 858.5 Z" stroke="none" stroke-width="0" fill="#9a9a9a"/><rect x="129" y="857.5" width="3" height="3" stroke="none" stroke-width="0" fill="#9a9a9a"/><circle cx="131.5" cy="851.5" r="1.4" fill="#9a9a9a"/><circle cx="195.8" cy="844.8" r="11.3" stroke="#231815" stroke-width="1.3" fill="none"/><text x="195.8" y="849.3" font-size="13.5" fill="#231815" font-family="Liberation Sans" text-anchor="middle" stroke="#231815" stroke-width="0.25">OK</text><path d="M186.7 826.7 L204.8 826.7 L195.7 814.5 Z" stroke="#231815" stroke-width="1.1" fill="none"/><path d="M189.5 825 L202 825 L195.7 817.5 Z" stroke="none" stroke-width="0" fill="#231815"/><path d="M186.7 863 L204.8 863 L195.7 875 Z" stroke="#231815" stroke-width="1.1" fill="none"/><path d="M189.5 864.8 L202 864.8 L195.7 872.5 Z" stroke="none" stroke-width="0" fill="#231815"/><path d="M177.6 835.8 L177.6 854 L165.5 844.9 Z" stroke="#231815" stroke-width="1.1" fill="none"/><path d="M175.8 838.5 L175.8 851.3 L168.3 844.9 Z" stroke="none" stroke-width="0" fill="#231815"/><path d="M214 836 L214 854 L227 845 Z" stroke="#231815" stroke-width="1.1" fill="none"/><path d="M215.8 838.7 L215.8 851.3 L224.2 845 Z" stroke="none" stroke-width="0" fill="#231815"/><rect x="251.3" y="820.6" width="26.4" height="13" stroke="#231815" stroke-width="1.3" fill="none" rx="6.5"/><text x="264.5" y="830.6" font-size="8.6" fill="#231815" font-family="Liberation Sans" text-anchor="middle" textLength="21" lengthAdjust="spacingAndGlyphs">Menu</text><rect x="251.8" y="838.8" width="26" height="13.3" stroke="#231815" stroke-width="1.3" fill="none" rx="6.6"/><rect x="262.5" y="842" width="6.5" height="7" stroke="#231815" stroke-width="1" fill="none"/><rect x="260" y="840.5" width="6.5" height="6.5" stroke="#231815" stroke-width="0.8" fill="none"/><rect x="252" y="857.3" width="25.8" height="13.4" stroke="#231815" stroke-width="1.3" fill="none" rx="6.7"/><text x="264.9" y="867.5" font-size="9" fill="#231815" font-family="Liberation Sans" text-anchor="middle">Esc</text><line x1="91.1" y1="906.5" x2="91.1" y2="935.8" stroke="#231815" stroke-width="1.2"/><line x1="292.3" y1="906" x2="292.3" y2="935.5" stroke="#231815" stroke-width="1.2"/><line x1="97" y1="921.4" x2="286" y2="921.4" stroke="#231815" stroke-width="1.3"/><path d="M91.1 921.4 L104.4 914.4 L104.4 928.4 Z" stroke="none" stroke-width="0" fill="#231815"/><path d="M292.3 921.4 L279.4 914.4 L279.4 928.4 Z" stroke="none" stroke-width="0" fill="#231815"/><line x1="331.5" y1="672" x2="360.4" y2="672" stroke="#231815" stroke-width="1.2"/><line x1="332.2" y1="791.9" x2="360.2" y2="791.9" stroke="#231815" stroke-width="1.2"/><line x1="346.2" y1="678" x2="346.2" y2="786" stroke="#231815" stroke-width="1.3"/><path d="M346.2 672 L339.2 685.2 L353.2 685.2 Z" stroke="none" stroke-width="0" fill="#231815"/><path d="M346.2 791.9 L339.2 779.2 L353.2 779.2 Z" stroke="none" stroke-width="0" fill="#231815"/><line x1="371.6" y1="618" x2="652" y2="618" stroke="#231815" stroke-width="1.3"/><line x1="391.5" y1="611.5" x2="391.5" y2="624.5" stroke="#231815" stroke-width="1.2"/><line x1="422.5" y1="611.5" x2="422.5" y2="624.5" stroke="#231815" stroke-width="1.2"/><line x1="657.9" y1="608.3" x2="657.9" y2="644" stroke="#231815" stroke-width="1.2"/><path d="M391.5 618 L381.3 611 L381.3 625 Z" stroke="none" stroke-width="0" fill="#231815"/><path d="M422.5 618 L433.8 611 L433.8 625 Z" stroke="none" stroke-width="0" fill="#231815"/><path d="M657.9 618 L647.7 611 L647.7 625 Z" stroke="none" stroke-width="0" fill="#231815"/><rect x="391.6" y="629.2" width="30.7" height="264.5" stroke="#231815" stroke-width="2.2" fill="none"/><line x1="420.3" y1="629.2" x2="420.3" y2="893.7" stroke="#231815" stroke-width="1.2"/><rect x="423.3" y="643.8" width="4.6" height="235.2" stroke="none" stroke-width="0" fill="#dcdcdc"/><line x1="423.3" y1="643.8" x2="657.9" y2="643.8" stroke="#231815" stroke-width="2.3"/><line x1="427.9" y1="652.7" x2="657.9" y2="652.7" stroke="#7a7470" stroke-width="1.3"/><line x1="657.9" y1="643.8" x2="657.9" y2="879" stroke="#231815" stroke-width="2.3"/><line x1="423.3" y1="879" x2="657.9" y2="879" stroke="#231815" stroke-width="2.3"/><line x1="427.9" y1="870.3" x2="657.9" y2="870.3" stroke="#5a5350" stroke-width="1.2"/><path d="M487.7 701 L588.7 701 L599.5 711.7 L599.5 821.8 L487.7 821.8 Z" stroke="#231815" stroke-width="2" fill="none"/><rect x="568.3" y="879.8" width="27.6" height="6.4" stroke="#555" stroke-width="0.9" fill="#f7f7f7"/><line x1="580.3" y1="879.8" x2="580.3" y2="902.4" stroke="#555" stroke-width="0.8"/><line x1="583.1" y1="879.8" x2="583.1" y2="902.4" stroke="#555" stroke-width="0.8"/><path d="M567.5 886.2 L596.7 886.2 Q597.5 894 596.7 902.4 L567.5 902.4 Q566.5 894 567.5 886.2 Z" stroke="#444" stroke-width="1" fill="none"/><line x1="568" y1="888.3" x2="596.2" y2="888.3" stroke="#666" stroke-width="0.7"/><path d="M568.3 902.4 L568.3 907 Q569 913.7 575 913.7 L589 913.7 Q595.3 913.7 595.9 907 L595.9 902.4" stroke="#444" stroke-width="1" fill="none"/><line x1="568.3" y1="905.3" x2="595.9" y2="905.3" stroke="#555" stroke-width="0.8"/><line x1="569" y1="908.8" x2="595.2" y2="908.8" stroke="#777" stroke-width="0.7"/><line x1="688.7" y1="608.4" x2="688.7" y2="634.3" stroke="#231815" stroke-width="1.2"/><line x1="924.4" y1="608.4" x2="924.4" y2="634.3" stroke="#231815" stroke-width="1.2"/><line x1="695" y1="622" x2="918" y2="622" stroke="#231815" stroke-width="1.3"/><path d="M688.7 622 L702.3 615 L702.3 629 Z" stroke="none" stroke-width="0" fill="#231815"/><path d="M924.4 622 L910.8 615 L910.8 629 Z" stroke="none" stroke-width="0" fill="#231815"/><rect x="689" y="642" width="234.7" height="234.5" stroke="#231815" stroke-width="2.6" fill="#dcdcdc"/><line x1="930.6" y1="641" x2="955" y2="641" stroke="#231815" stroke-width="1.2"/><line x1="930.6" y1="876.5" x2="955" y2="876.5" stroke="#231815" stroke-width="1.2"/><line x1="942.4" y1="648" x2="942.4" y2="870" stroke="#231815" stroke-width="1.3"/><path d="M942.4 641 L935.4 654.7 L949.4 654.7 Z" stroke="none" stroke-width="0" fill="#231815"/><path d="M942.4 876.5 L935.4 862.9 L949.4 862.9 Z" stroke="none" stroke-width="0" fill="#231815"/><text x="167.3" y="608.9" font-size="20.5" fill="#231815" font-family="Liberation Sans" textLength="30" lengthAdjust="spacingAndGlyphs">144</text><text x="197.8" y="608.9" font-size="17.5" fill="#231815" font-family="Liberation Sans" textLength="20.5" lengthAdjust="spacingAndGlyphs" font-weight="bold" stroke="#231815" stroke-width="0.15">mm</text><text x="387" y="606.5" font-size="20.5" fill="#231815" font-family="Liberation Sans" textLength="20" lengthAdjust="spacingAndGlyphs">30</text><text x="407.5" y="606.5" font-size="17.5" fill="#231815" font-family="Liberation Sans" textLength="20.5" lengthAdjust="spacingAndGlyphs" font-weight="bold" stroke="#231815" stroke-width="0.15">mm</text><text x="519.4" y="606.7" font-size="20.5" fill="#231815" font-family="Liberation Sans" textLength="30" lengthAdjust="spacingAndGlyphs">100</text><text x="549.9" y="606.7" font-size="17.5" fill="#231815" font-family="Liberation Sans" textLength="20.5" lengthAdjust="spacingAndGlyphs" font-weight="bold" stroke="#231815" stroke-width="0.15">mm</text><text x="172.3" y="943.7" font-size="20.5" fill="#231815" font-family="Liberation Sans" textLength="30" lengthAdjust="spacingAndGlyphs">107</text><text x="202.8" y="943.7" font-size="17.5" fill="#231815" font-family="Liberation Sans" textLength="20.5" lengthAdjust="spacingAndGlyphs" font-weight="bold" stroke="#231815" stroke-width="0.15">mm</text><g transform="translate(19.2 745.5) rotate(90)"><text x="-1.5" y="0" font-size="20.5" fill="#231815" font-family="Liberation Sans" textLength="30" lengthAdjust="spacingAndGlyphs">144</text><text x="29" y="0" font-size="17.5" fill="#231815" font-family="Liberation Sans" textLength="20.5" lengthAdjust="spacingAndGlyphs" font-weight="bold" stroke="#231815" stroke-width="0.15">mm</text></g><g transform="translate(355.9 719.7) rotate(90)"><text x="-1" y="0" font-size="20.5" fill="#231815" font-family="Liberation Sans" textLength="20" lengthAdjust="spacingAndGlyphs">64</text><text x="19.5" y="0" font-size="17.5" fill="#231815" font-family="Liberation Sans" textLength="20.5" lengthAdjust="spacingAndGlyphs" font-weight="bold" stroke="#231815" stroke-width="0.15">mm</text></g><g transform="translate(760 610.8)"><text x="0" y="0" font-size="19" fill="#231815" font-family="Liberation Sans" textLength="49" lengthAdjust="spacingAndGlyphs">135. 5</text><text x="50" y="-11.7" font-size="12" fill="#231815" font-family="Liberation Sans" textLength="28.5" lengthAdjust="spacingAndGlyphs">+0. 5</text><text x="57" y="5" font-size="12" fill="#231815" font-family="Liberation Sans" textLength="7" lengthAdjust="spacingAndGlyphs">0</text><text x="68.5" y="0" font-size="15" fill="#231815" font-family="Liberation Sans" textLength="20.5" lengthAdjust="spacingAndGlyphs" stroke="#231815" stroke-width="0.3">mm</text></g><g transform="translate(953 709) rotate(90)"><text x="0" y="0" font-size="19" fill="#231815" font-family="Liberation Sans" textLength="49" lengthAdjust="spacingAndGlyphs">135. 5</text><text x="50" y="-11.7" font-size="12" fill="#231815" font-family="Liberation Sans" textLength="28.5" lengthAdjust="spacingAndGlyphs">+0. 5</text><text x="57" y="5" font-size="12" fill="#231815" font-family="Liberation Sans" textLength="7" lengthAdjust="spacingAndGlyphs">0</text><text x="68.5" y="0" font-size="15" fill="#231815" font-family="Liberation Sans" textLength="20.5" lengthAdjust="spacingAndGlyphs" stroke="#231815" stroke-width="0.3">mm</text></g></svg>

<div id="OHR" class="t" style="left:173.5px;top:642px;font-size:15.5px;font-weight:bold;color:#231815;letter-spacing:-0.3px;-webkit-text-stroke:0.6px #231815;">OHR</div>
<div id="S1" class="t sr" style="left:137px;top:724.5px;letter-spacing:5px;">显示区域</div>
<div id="S2" class="t sr" style="left:756px;top:750px;">开孔尺寸</div>

<div id="L1" class="t lb" style="left:75px;top:232px;letter-spacing:1.8px;">①侧壁安装</div>
<div id="L2" class="t lb" style="left:313px;top:130px;letter-spacing:0.7px;">②顶部法兰式安装</div>
<div id="L3" class="t lb" style="left:500px;top:308px;letter-spacing:-2.5px;">③管道转弯处安装</div>
<div id="L4" class="t lb" style="left:500px;top:176px;letter-spacing:0.5px;">④管道转弯处安装</div>
<div id="L5" class="t lb" style="left:643px;top:89px;letter-spacing:1.9px;">⑤流通式安装</div>
<div id="L6" class="t lb" style="left:777px;top:208px;letter-spacing:1.6px;">⑥沉入式安装</div>

<div id="H0" class="t h1" style="left:48px;top:24px;letter-spacing:0.6px;">电极安装：</div>
<div id="H1" class="t h1" style="left:53px;top:524px;letter-spacing:1px;">外形尺寸：</div>
<div id="H2x" class="t h2" style="left:27px;top:999px;letter-spacing:0.5px;">电极常见的安装方式：</div>
<div id="P0" class="t p" style="top:1040.0px;">安装方式一：</div>
<div id="P1" class="t p" style="top:1073.1px;">如图1所示，将荧光法溶解氧传感器固定在浮台上，传感器深入浮台底部的长度H为所测水层到</div>
<div id="P2" class="t p" style="top:1106.2px;">水面的距离，为确保溶氧值的输出稳定，建议其安装深度应大于30cm。</div>
<div id="P3" class="t p" style="top:1139.3px;">安装方式二：</div>
<div id="P4" class="t p" style="top:1172.4px;">1.如图2所示，将固定杆（固定杆直径小于φ50）插入泥土层使其固定，将传感器安装浮台套在</div>
<div id="P5" class="t p" style="top:1205.5px;">固定杆上，使浮台自然漂浮在水面上。</div>
<div id="P6" class="t p" style="top:1238.6px;">2.如图3所示，分别用两根尼龙绳固定在传感器的外壳上，拿着两根绳子的末端将传感器提起，</div>
<div id="P7" class="t p" style="top:1271.7px;">然后调整绳子B的长度使传感器探头成45度角向下倾斜。将两根绳子的末端套在浮台远离固定</div>
<div id="P8" class="t p" style="top:1304.8px;">杆的一侧的固定柱上。</div>

</body>
</html>
